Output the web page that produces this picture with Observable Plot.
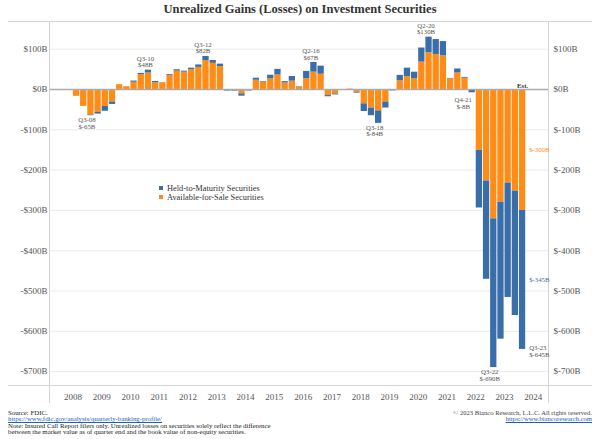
<!DOCTYPE html>
<html>
<head>
<meta charset="utf-8">
<script src="https://cdn.jsdelivr.net/npm/d3@7"></script>
<script src="https://cdn.jsdelivr.net/npm/@observablehq/plot@0.6"></script>
<style>
  html, body { margin: 0; padding: 0; background: #fff; }
  #wrap { position: relative; width: 600px; height: 439px; overflow: hidden; font-family: "Liberation Serif", serif; }
  #title { position: absolute; left: 8px; right: 8px; top: 0; height: 21px; border-bottom: 1px solid #d6d6d6;
           text-align: center; font-weight: bold; font-size: 12.5px; line-height: 19px; color: #333; }
  #chart { position: absolute; left: 0; top: 22px; }
  #legend { position: absolute; left: 159px; top: 184px; font-size: 8.4px; color: #333; line-height: 9.4px; }
  #legend .sw { display: inline-block; width: 4px; height: 4px; margin-right: 4px; vertical-align: 1px; }
  #foot { position: absolute; left: 8px; top: 409.5px; font-size: 6.8px; line-height: 6.6px; color: #222; white-space: nowrap; }
  #foot a, #copy a { color: #1a5fb4; text-decoration: underline; }
  #copy { position: absolute; right: 8px; top: 409.5px; font-size: 6.6px; line-height: 6.6px; color: #444; text-align: right; white-space: nowrap; }
</style>
</head>
<body>
<div id="wrap">
  <div id="title">Unrealized Gains (Losses) on Investment Securities</div>
  <div id="chart"></div>
  <div id="legend"></div>
  <div id="foot">
    Source: FDIC.<br>
    <a>https://www.fdic.gov/analysis/quarterly-banking-profile/</a><br>
    Note: Insured Call Report filers only. Unrealized losses on securities solely reflect the difference<br>
    between the market value as of quarter end and the book value of non-equity securities.
  </div>
  <div id="copy">© 2023 Bianco Research, L.L.C. All rights reserved.<br><a>https://www.biancoresearch.com</a></div>
</div>
<script>
// ---- data ----
const quarters = [
  "Q1-08","Q2-08","Q3-08","Q4-08","Q1-09","Q2-09","Q3-09","Q4-09",
  "Q1-10","Q2-10","Q3-10","Q4-10","Q1-11","Q2-11","Q3-11","Q4-11",
  "Q1-12","Q2-12","Q3-12","Q4-12","Q1-13","Q2-13","Q3-13","Q4-13",
  "Q1-14","Q2-14","Q3-14","Q4-14","Q1-15","Q2-15","Q3-15","Q4-15",
  "Q1-16","Q2-16","Q3-16","Q4-16","Q1-17","Q2-17","Q3-17","Q4-17",
  "Q1-18","Q2-18","Q3-18","Q4-18","Q1-19","Q2-19","Q3-19","Q4-19",
  "Q1-20","Q2-20","Q3-20","Q4-20","Q1-21","Q2-21","Q3-21","Q4-21",
  "Q1-22","Q2-22","Q3-22","Q4-22","Q1-23","Q2-23","Q3-23"
];
// Available-for-Sale securities, $B
const afs = [
  -17,-42,-63,-56,-42,-31,12,7,
  18,37,41,16.5,16.5,35,45.5,43,
  49,55,72,65,57,-2.5,-2.5,-10.7,
  -3,23,18.5,26.5,36,16,20.7,6,
  27,43,38,-15,-11,-0.5,1,-6.6,
  -35.5,-46,-53,-31,-1,21.5,32,26.5,
  68,91,87,83.5,26.5,41,28,-0.5,
  -151,-227,-321,-279.5,-232,-252,-300
];
// Held-to-Maturity securities, $B
const htm = [
  0,0,-2,-5,-12,-6,0,0,
  3,3,7,3.5,0.5,2,3.5,2.5,
  4,6,10,7,6,-1.5,-1.5,-5.8,
  -1,5,1.5,9,14,3.5,11.5,1,
  18,24,20,-3,-2.5,-0.5,0,-2.4,
  -19,-19,-31,-15,-2.5,13.5,21,16.5,
  35,39,37,35.5,1,10,2,-7.5,
  -143,-244,-369,-340,-284,-309,-345
];
const seriesNames = ["Available-for-Sale Securities", "Held-to-Maturity Securities"];
const seriesColors = ["#ff8c17", "#3a6ea8"];
const yTicks = [100, 0, -100, -200, -300, -400, -500, -600, -700];
const years = [2008,2009,2010,2011,2012,2013,2014,2015,2016,2017,2018,2019,2020,2021,2022,2023,2024];
const noteQuarters = ["Q3-08","Q3-10","Q3-12","Q2-16","Q3-18","Q2-20","Q3-22"];
const noteLabels = ["$-65B","$48B","$82B","$67B","$-84B","$130B","$-690B"];
const q421Label = "$-8B";
const lastLabel = "$-645B";
const lastAfsLabel = "$-300B";
const lastHtmLabel = "$-345B";

// ---- derived tables ----
const tOf = q => { const i = quarters.indexOf(q); return 2008 + i / 4; };
const totalOf = q => { const i = quarters.indexOf(q); return afs[i] + htm[i]; };
const rows = [];
quarters.forEach((q, i) => {
  rows.push({q, t: 2008 + i / 4, series: seriesNames[0], value: afs[i]});
  rows.push({q, t: 2008 + i / 4, series: seriesNames[1], value: htm[i]});
});
const notes = noteQuarters.map((q, i) => ({q, t: tOf(q), total: totalOf(q), label: noteLabels[i]}));
const notesPos = notes.filter(d => d.total >= 0);
const notesNeg = notes.filter(d => d.total < 0);
const lastQ = quarters[quarters.length - 1];
const lastI = quarters.length - 1;
const q421 = [{q: "Q4-21", t: tOf("Q4-21"), total: totalOf("Q4-21"), label: q421Label}];
const lastNote = [{q: lastQ, t: tOf(lastQ), total: totalOf(lastQ), label: lastLabel}];
const segNotes = [
  {t: tOf(lastQ), y: afs[lastI] / 2, label: lastAfsLabel, series: seriesNames[0]},
  {t: tOf(lastQ), y: afs[lastI] + htm[lastI] / 2, label: lastHtmLabel, series: seriesNames[1]}
];

const xDom = [2007.186, 2024.527];
const yDom = [-734.5, 166.3];
const fmtLeft = d => d < 0 ? `-$${-d}B` : `$${d}B`;
const fmtRight = d => `$${d}B`;
const txt = {fontSize: 6.8, lineHeight: 0.95, fill: "#555"};

const chart = Plot.plot({
  width: 600,
  height: 381,
  marginTop: 0,
  marginBottom: 18,
  marginLeft: 49,
  marginRight: 52,
  style: {fontFamily: "Liberation Serif", background: "transparent", overflow: "visible"},
  x: {domain: xDom, axis: null},
  y: {domain: yDom, axis: null},
  color: {domain: seriesNames, range: seriesColors},
  marks: [
    Plot.gridY(yTicks.filter(d => d !== 0), {stroke: "#e6e6e6", strokeOpacity: 1, strokeWidth: 0.8}),
    Plot.rectY(rows, Plot.stackY({x: "t", interval: 0.25, y: "value", fill: "series", z: "series", insetLeft: 0.45, insetRight: 0.45})),
    Plot.ruleY([0], {stroke: "#ababab", strokeWidth: 1.6}),
    Plot.ruleX(xDom, {stroke: "#d4d4d4", strokeWidth: 1, insetBottom: -18}),
    Plot.ruleY([yDom[0]], {stroke: "#d4d4d4", strokeWidth: 1, insetLeft: -41, insetRight: -44}),
    Plot.axisY({anchor: "left", ticks: yTicks, tickSize: 0, tickPadding: 2, tickFormat: fmtLeft, fontSize: 9, fill: "#555", label: null}),
    Plot.axisY({anchor: "right", ticks: yTicks, tickSize: 0, tickPadding: 5, tickFormat: fmtRight, fontSize: 9, fill: "#555", label: null}),
    Plot.axisX({ticks: years, tickSize: 0, tickPadding: 8, tickFormat: d => String(d), fontSize: 9, fill: "#555", label: null}),
    Plot.text(notesPos, {x: d => d.t + 0.125, y: "total", text: d => `${d.q}\n${d.label}`, lineAnchor: "bottom", dy: -3, dx: -3, ...txt}),
    Plot.text(notesNeg, {x: d => d.t + 0.125, y: "total", text: d => `${d.q}\n${d.label}`, lineAnchor: "top", dy: 2, dx: -4, ...txt}),
    Plot.text(q421, {x: d => d.t + 0.125, y: "total", text: d => `${d.q}\n${d.label}`, lineAnchor: "top", dy: 5, dx: -9, ...txt}),
    Plot.text(lastNote, {x: d => d.t + 0.25, y: "total", text: d => `${d.q}\n${d.label}`, lineAnchor: "middle", textAnchor: "start", dx: 3, dy: 2, ...txt}),
    Plot.text(segNotes, {x: d => d.t + 0.25, y: "y", text: "label", fill: "series", textAnchor: "start", dx: 3, fontSize: 6.8}),
    Plot.text(lastNote, {x: d => d.t + 0.125, y: 0, text: () => "Est.", lineAnchor: "bottom", dy: -2, fontSize: 6.8, fill: "#333", fontWeight: "bold"})
  ]
});
document.getElementById("chart").appendChild(chart);

// legend
const lg = document.getElementById("legend");
[1, 0].forEach(i => {
  const row = document.createElement("div");
  row.innerHTML = `<span class="sw" style="background:${seriesColors[i]}"></span>${seriesNames[i]}`;
  lg.appendChild(row);
});
</script>
</body>
</html>
